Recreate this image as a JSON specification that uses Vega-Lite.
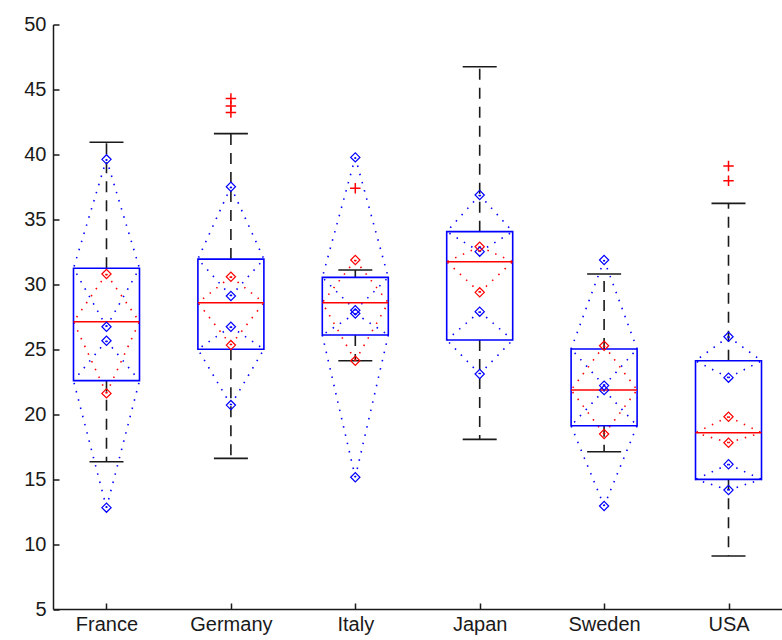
{
  "$schema": "https://vega.github.io/schema/vega-lite/v6.json",
  "width": 729,
  "height": 584.5,
  "autosize": {"type": "none"},
  "padding": {"left": 53, "top": 24.5, "right": 0, "bottom": 31},
  "background": "white",
  "config": {
    "view": {"stroke": null},
    "axis": {
      "labelFont": "Liberation Sans",
      "labelFontSize": 20,
      "labelColor": "#1a1a1a",
      "domainColor": "#1a1a1a",
      "domainWidth": 1.5,
      "tickColor": "#1a1a1a",
      "tickWidth": 1.5,
      "tickSize": -6,
      "grid": false,
      "title": null
    }
  },
  "datasets": {
    "stats": [
      {"country": "France", "lo": 16.34, "q1": 22.58, "med": 27.12, "q3": 31.23, "hi": 40.93},
      {"country": "Germany", "lo": 16.6, "q1": 25.0, "med": 28.58, "q3": 31.94, "hi": 41.6},
      {"country": "Italy", "lo": 24.11, "q1": 26.09, "med": 28.58, "q3": 30.53, "hi": 31.1},
      {"country": "Japan", "lo": 18.06, "q1": 25.71, "med": 31.74, "q3": 34.05, "hi": 46.75},
      {"country": "Sweden", "lo": 17.11, "q1": 19.11, "med": 21.86, "q3": 25.02, "hi": 30.79},
      {"country": "USA", "lo": 9.08, "q1": 14.98, "med": 18.57, "q3": 24.11, "hi": 36.23}
    ],
    "outliers": [
      {"country": "Germany", "value": 44.31},
      {"country": "Germany", "value": 43.72},
      {"country": "Germany", "value": 43.23},
      {"country": "Italy", "value": 37.39},
      {"country": "USA", "value": 39.1},
      {"country": "USA", "value": 37.97}
    ],
    "diamonds": [
      {"country": "France", "band": "upper", "top": 39.62, "bottom": 26.73},
      {"country": "France", "band": "lower", "top": 25.65, "bottom": 12.8},
      {"country": "France", "band": "middle", "top": 30.79, "bottom": 21.6},
      {"country": "Germany", "band": "upper", "top": 37.51, "bottom": 29.1},
      {"country": "Germany", "band": "lower", "top": 26.73, "bottom": 20.7},
      {"country": "Germany", "band": "middle", "top": 30.58, "bottom": 25.32},
      {"country": "Italy", "band": "upper", "top": 39.77, "bottom": 28.0},
      {"country": "Italy", "band": "lower", "top": 27.75, "bottom": 15.14},
      {"country": "Italy", "band": "middle", "top": 31.87, "bottom": 24.11},
      {"country": "Japan", "band": "upper", "top": 36.87, "bottom": 32.51},
      {"country": "Japan", "band": "lower", "top": 27.89, "bottom": 23.09},
      {"country": "Japan", "band": "middle", "top": 32.89, "bottom": 29.38},
      {"country": "Sweden", "band": "upper", "top": 31.87, "bottom": 22.2},
      {"country": "Sweden", "band": "lower", "top": 21.85, "bottom": 12.93},
      {"country": "Sweden", "band": "middle", "top": 25.27, "bottom": 18.47},
      {"country": "USA", "band": "upper", "top": 25.96, "bottom": 22.81},
      {"country": "USA", "band": "lower", "top": 16.14, "bottom": 14.16},
      {"country": "USA", "band": "middle", "top": 19.8, "bottom": 17.8}
    ]
  },
  "encoding": {
    "x": {
      "field": "country",
      "type": "nominal",
      "scale": {"type": "point", "padding": 0.43, "domain": ["France", "Germany", "Italy", "Japan", "Sweden", "USA"]},
      "axis": {"labelAngle": 0, "labelPadding": 11}
    }
  },
  "layer": [
    {
      "data": {"name": "stats"},
      "mark": {"type": "rule", "color": "#1a1a1a", "strokeWidth": 1.6, "strokeDash": [11, 8]},
      "encoding": {
        "y": {"field": "q3", "type": "quantitative", "scale": {"domain": [5, 50], "nice": false, "zero": false},
              "axis": {"values": [5, 10, 15, 20, 25, 30, 35, 40, 45, 50], "labelPadding": 13}},
        "y2": {"field": "hi"}
      }
    },
    {
      "data": {"name": "stats"},
      "mark": {"type": "rule", "color": "#1a1a1a", "strokeWidth": 1.6, "strokeDash": [11, 8]},
      "encoding": {
        "y": {"field": "q1", "type": "quantitative"},
        "y2": {"field": "lo"}
      }
    },
    {
      "data": {"name": "stats"},
      "mark": {"type": "rule", "color": "#1a1a1a", "strokeWidth": 1.6, "xOffset": -17, "x2Offset": 17},
      "encoding": {
        "x2": {"field": "country"},
        "y": {"field": "hi", "type": "quantitative"}
      }
    },
    {
      "data": {"name": "stats"},
      "mark": {"type": "rule", "color": "#1a1a1a", "strokeWidth": 1.6, "xOffset": -17, "x2Offset": 17},
      "encoding": {
        "x2": {"field": "country"},
        "y": {"field": "lo", "type": "quantitative"}
      }
    },
    {
      "data": {"name": "diamonds"},
      "transform": [
        {"lookup": "country", "from": {"data": {"name": "stats"}, "key": "country", "fields": ["q1", "med", "q3"]}},
        {"calculate": "datum.band === 'upper' ? datum.q3 : datum.band === 'lower' ? datum.q1 : datum.med", "as": "waist"},
        {"fold": ["top", "bottom"], "as": ["end", "value"]}
      ],
      "mark": {"type": "rule", "strokeWidth": 1.6, "strokeDash": [1.5, 7], "x2Offset": 33},
      "encoding": {
        "x2": {"field": "country"},
        "y": {"field": "value", "type": "quantitative"},
        "y2": {"field": "waist"},
        "color": {"field": "band", "type": "nominal", "legend": null,
                  "scale": {"domain": ["upper", "lower", "middle"], "range": ["#0000ff", "#0000ff", "#ff0000"]}}
      }
    },
    {
      "data": {"name": "diamonds"},
      "transform": [
        {"lookup": "country", "from": {"data": {"name": "stats"}, "key": "country", "fields": ["q1", "med", "q3"]}},
        {"calculate": "datum.band === 'upper' ? datum.q3 : datum.band === 'lower' ? datum.q1 : datum.med", "as": "waist"},
        {"fold": ["top", "bottom"], "as": ["end", "value"]}
      ],
      "mark": {"type": "rule", "strokeWidth": 1.6, "strokeDash": [1.5, 7], "x2Offset": -33},
      "encoding": {
        "x2": {"field": "country"},
        "y": {"field": "value", "type": "quantitative"},
        "y2": {"field": "waist"},
        "color": {"field": "band", "type": "nominal", "legend": null}
      }
    },
    {
      "data": {"name": "stats"},
      "mark": {"type": "rect", "filled": false, "fill": null, "stroke": "#0000ff", "strokeWidth": 1.6, "xOffset": -33, "x2Offset": 33},
      "encoding": {
        "x2": {"field": "country"},
        "y": {"field": "q1", "type": "quantitative"},
        "y2": {"field": "q3"}
      }
    },
    {
      "data": {"name": "stats"},
      "mark": {"type": "rule", "color": "#ff0000", "strokeWidth": 1.6, "xOffset": -33, "x2Offset": 33},
      "encoding": {
        "x2": {"field": "country"},
        "y": {"field": "med", "type": "quantitative"}
      }
    },
    {
      "data": {"name": "diamonds"},
      "transform": [
        {"fold": ["top", "bottom"], "as": ["end", "value"]}
      ],
      "mark": {"type": "point", "shape": "diamond", "filled": false, "size": 85, "strokeWidth": 1.2, "opacity": 1},
      "encoding": {
        "y": {"field": "value", "type": "quantitative"},
        "color": {"field": "band", "type": "nominal", "legend": null}
      }
    },
    {
      "data": {"name": "outliers"},
      "mark": {"type": "point", "shape": "M-1,0H1M0,-1V1", "filled": false, "size": 110, "stroke": "#ff0000", "strokeWidth": 1.5, "opacity": 1},
      "encoding": {
        "y": {"field": "value", "type": "quantitative"}
      }
    }
  ]
}
